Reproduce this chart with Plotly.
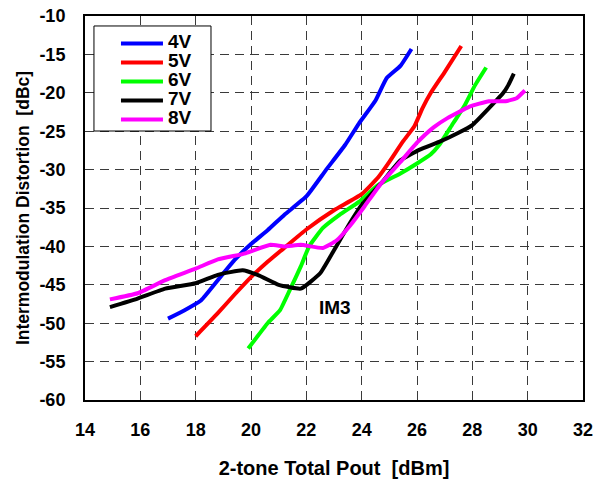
import plotly.graph_objects as go

x_4v = [17.0, 17.6, 18.2, 18.8, 19.4, 20.0, 20.6, 21.2, 22.0, 22.7, 23.4, 23.9, 24.5, 24.9, 25.4, 25.8]
y_4v = [-49.4, -48.3, -47.0, -44.4, -41.8, -39.7, -37.9, -35.9, -33.5, -30.1, -26.8, -24.0, -21.0, -18.1, -16.5, -14.3]

x_5v = [18.0, 18.8, 19.4, 20.0, 20.6, 21.2, 22.0, 23.0, 24.0, 24.6, 25.0, 25.5, 25.9, 26.2, 26.5, 27.0, 27.6]
y_5v = [-51.7, -48.7, -46.3, -44.0, -42.0, -40.2, -37.8, -35.3, -33.2, -31.0, -29.0, -26.3, -24.4, -22.0, -20.0, -17.3, -13.9]

x_6v = [19.9, 20.6, 21.05, 21.4, 21.8, 22.1, 22.6, 23.2, 23.9, 24.6, 25.4, 26.0, 26.5, 26.8, 27.3, 27.7, 28.1, 28.5]
y_6v = [-53.3, -50.0, -48.3, -45.7, -42.6, -40.0, -37.6, -35.9, -34.2, -32.0, -30.5, -29.2, -28.0, -26.8, -24.0, -21.8, -19.0, -16.7]

x_7v = [14.9, 15.9, 16.9, 18.0, 18.8, 19.7, 20.3, 21.0, 21.8, 22.5, 23.0, 23.5, 24.0, 24.7, 25.4, 26.1, 26.8, 27.5, 28.0, 28.6, 29.1, 29.3, 29.5]
y_7v = [-47.9, -46.8, -45.5, -44.8, -43.7, -43.1, -43.8, -45.0, -45.5, -43.5, -40.5, -37.4, -34.6, -31.8, -28.8, -27.4, -26.4, -25.2, -24.2, -22.0, -20.1, -19.0, -17.5]

x_8v = [14.9, 15.9, 16.9, 18.0, 18.8, 19.8, 20.7, 21.2, 21.8, 22.6, 23.1, 23.6, 24.1, 24.7, 25.4, 26.0, 26.6, 27.1, 27.9, 28.6, 29.2, 29.6, 29.9]
y_8v = [-46.9, -46.1, -44.4, -42.9, -41.7, -40.9, -39.8, -40.0, -39.8, -40.2, -39.2, -37.2, -34.8, -31.8, -29.0, -26.5, -24.5, -23.3, -21.8, -21.1, -21.1, -20.7, -19.7]

series_names = ["4V", "5V", "6V", "7V", "8V"]
series_colors = ["#0000FF", "#FF0000", "#00FF00", "#000000", "#FF00FF"]
series_x = [x_4v, x_5v, x_6v, x_7v, x_8v]
series_y = [y_4v, y_5v, y_6v, y_7v, y_8v]

x_ticks = [14, 16, 18, 20, 22, 24, 26, 28, 30, 32]
x_tick_labels = ["14", "16", "18", "20", "22", "24", "26", "28", "30", "32"]
y_ticks = [-10, -15, -20, -25, -30, -35, -40, -45, -50, -55, -60]
y_tick_labels = ["-10", "-15", "-20", "-25", "-30", "-35", "-40", "-45", "-50", "-55", "-60"]

FONT = "Liberation Sans, Arial"

fig = go.Figure()
for name, color, xs, ys in zip(series_names, series_colors, series_x, series_y):
    fig.add_trace(go.Scatter(
        x=xs, y=ys, name="<span style='font-size:19px'>" + name + "</span>", mode="lines",
        line=dict(color=color, width=4, shape="spline", smoothing=0.4),
    ))

fig.add_annotation(x=23.03, y=-48.0, text="<b>IM3</b>", showarrow=False,
                   font=dict(family=FONT, size=19, color="black"))

# legend frame
fig.add_shape(type="rect", xref="paper", yref="paper",
              x0=0.018, x1=0.253, y0=0.7005, y1=0.974,
              line=dict(color="black", width=1), fillcolor="white", layer="above")

axis_common = dict(
    showline=True, linecolor="black", linewidth=2, mirror=True,
    showgrid=True, gridcolor="#3a3a3a", gridwidth=1, griddash="9px,6px",
    zeroline=False, ticks="", automargin=False,
    tickfont=dict(family=FONT, size=18, color="black", weight="bold"),
)

fig.update_layout(
    width=596, height=479,
    margin=dict(l=85, r=13, t=16, b=79),
    paper_bgcolor="white", plot_bgcolor="white",
    font=dict(family=FONT, color="black"),
    xaxis=dict(range=[14, 32], tickvals=x_ticks, ticktext=x_tick_labels, ticklabelstandoff=12,
               title=dict(text="<b>2-tone Total Pout  [dBm]</b>", standoff=22,
                          font=dict(family=FONT, size=20, color="black")),
               **axis_common),
    yaxis=dict(range=[-60, -10], tickvals=y_ticks, ticktext=y_tick_labels, ticklabelstandoff=14,
               title=dict(text="<b>Intermodulation Distortion  [dBc]</b>", standoff=5,
                          font=dict(family=FONT, size=17.5, color="black")),
               **axis_common),
    legend=dict(x=0.0622, y=0.966, xanchor="left", yanchor="top",
                bgcolor="rgba(0,0,0,0)", borderwidth=0,
                itemwidth=42, tracegroupgap=0,
                font=dict(family=FONT, size=12, color="black", weight="bold")),
    showlegend=True,
    hovermode=False,
)

fig.write_html("out.html",
               config={"displayModeBar": False},
               post_script="document.body.style.margin='0';document.body.style.overflow='hidden';")
